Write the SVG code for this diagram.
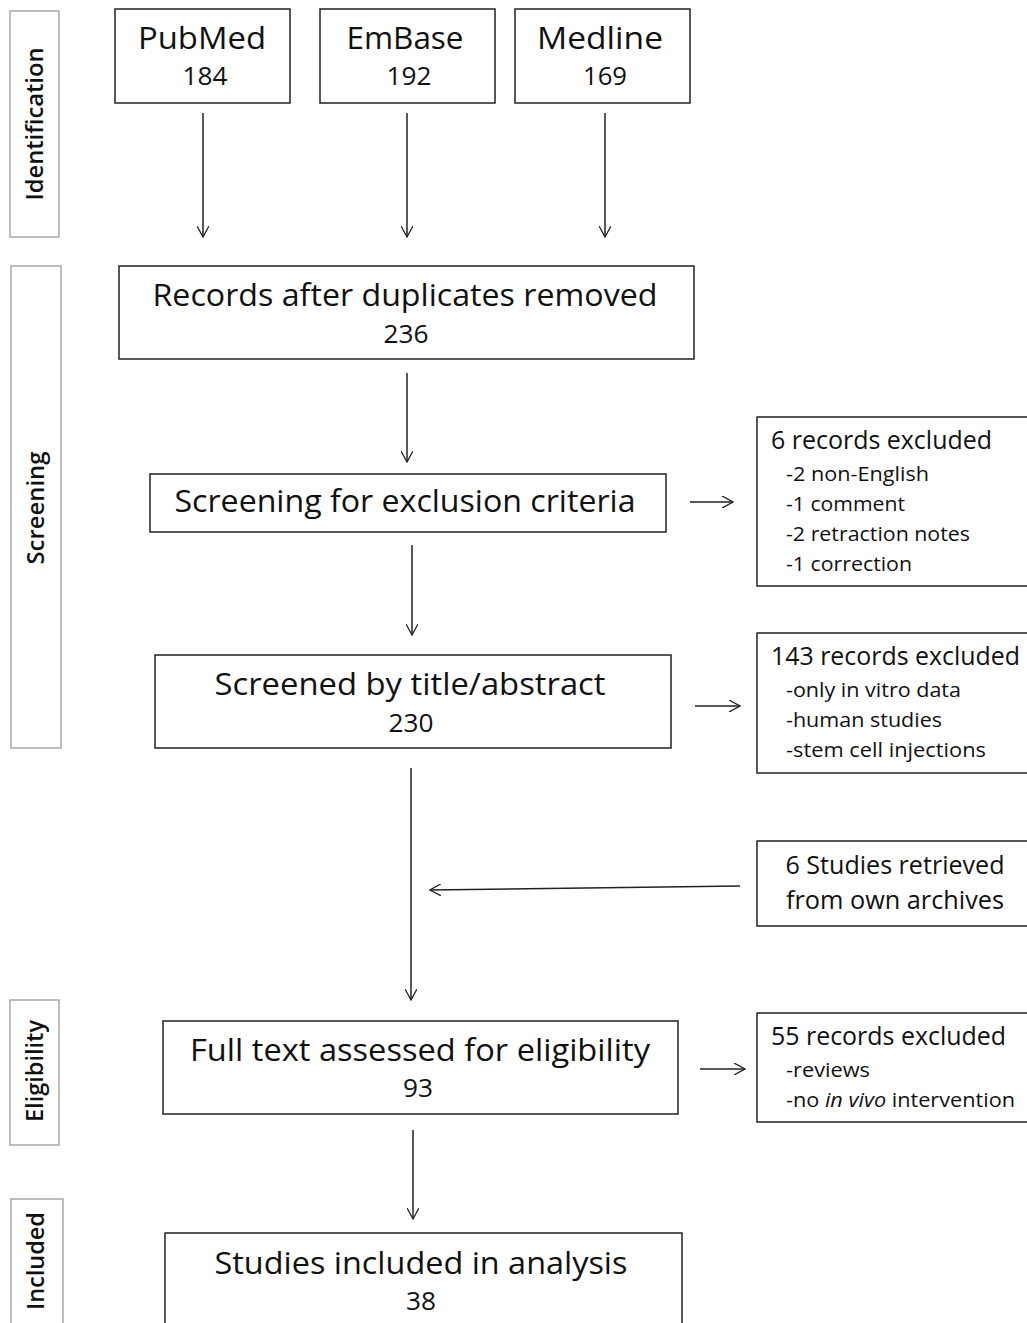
<svg xmlns="http://www.w3.org/2000/svg" width="1027" height="1323" viewBox="0 0 1027 1323">
<style>
.box{fill:#fff;stroke:#222;stroke-width:1.5}
.side{fill:#fff;stroke:#a8a8a8;stroke-width:1.5}
text{font-family:"Open Sans","Noto Sans","Liberation Sans",sans-serif;fill:#111}
.t{font-size:31px;text-anchor:middle}
.n{font-size:25px;text-anchor:middle}
.h{font-size:25px}
.s{font-size:20px}
.lab{font-size:24px;font-weight:600;text-anchor:middle}
.c{stroke:#222;stroke-width:1.5;fill:none;marker-end:url(#ah)}
</style>
<defs>
<marker id="ah" viewBox="0 0 12 12" refX="11" refY="6" markerWidth="12" markerHeight="12" markerUnits="userSpaceOnUse" orient="auto">
<polyline points="0,0 11,6 0,12" fill="none" stroke="#222" stroke-width="1.3"/>
</marker>
</defs>

<g id="side-identification"><rect class="side" x="10" y="11" width="49" height="226"/><text class="lab" transform="translate(43,124) rotate(-90)" textLength="153" lengthAdjust="spacingAndGlyphs">Identification</text></g>
<g id="side-screening"><rect class="side" x="11" y="266" width="50" height="482"/><text class="lab" transform="translate(44,508) rotate(-90)" textLength="113" lengthAdjust="spacingAndGlyphs">Screening</text></g>
<g id="side-eligibility"><rect class="side" x="10" y="1000" width="49" height="145"/><text class="lab" transform="translate(43,1071) rotate(-90)" textLength="102" lengthAdjust="spacingAndGlyphs">Eligibility</text></g>
<g id="side-included"><rect class="side" x="11" y="1199" width="52" height="140"/><text class="lab" transform="translate(44,1261) rotate(-90)" textLength="98" lengthAdjust="spacingAndGlyphs">Included</text></g>

<g id="pubmed"><rect class="box" x="115" y="9" width="175" height="94"/><text class="t" x="202" y="49" textLength="128" lengthAdjust="spacingAndGlyphs">PubMed</text><text class="n" x="205" y="85" textLength="45" lengthAdjust="spacingAndGlyphs">184</text></g>
<g id="embase"><rect class="box" x="320" y="9" width="175" height="94"/><text class="t" x="405" y="49" textLength="117" lengthAdjust="spacingAndGlyphs">EmBase</text><text class="n" x="409" y="85" textLength="45" lengthAdjust="spacingAndGlyphs">192</text></g>
<g id="medline"><rect class="box" x="515" y="9" width="175" height="94"/><text class="t" x="600" y="49" textLength="126" lengthAdjust="spacingAndGlyphs">Medline</text><text class="n" x="605" y="85" textLength="44" lengthAdjust="spacingAndGlyphs">169</text></g>

<g id="records"><rect class="box" x="119" y="266" width="575" height="93"/><text class="t" x="405" y="306" textLength="505" lengthAdjust="spacingAndGlyphs">Records after duplicates removed</text><text class="n" x="406" y="343" textLength="45" lengthAdjust="spacingAndGlyphs">236</text></g>
<g id="screening"><rect class="box" x="150" y="474" width="516" height="58"/><text class="t" x="405" y="512" textLength="461" lengthAdjust="spacingAndGlyphs">Screening for exclusion criteria</text></g>
<g id="screened"><rect class="box" x="155" y="655" width="516" height="93"/><text class="t" x="410" y="695" textLength="391" lengthAdjust="spacingAndGlyphs">Screened by title/abstract</text><text class="n" x="411" y="732" textLength="45" lengthAdjust="spacingAndGlyphs">230</text></g>
<g id="fulltext"><rect class="box" x="163" y="1021" width="515" height="93"/><text class="t" x="420" y="1061" textLength="460" lengthAdjust="spacingAndGlyphs">Full text assessed for eligibility</text><text class="n" x="418" y="1097" textLength="30" lengthAdjust="spacingAndGlyphs">93</text></g>
<g id="included"><rect class="box" x="165" y="1233" width="517" height="100"/><text class="t" x="421" y="1274" textLength="413" lengthAdjust="spacingAndGlyphs">Studies included in analysis</text><text class="n" x="421" y="1310" textLength="30" lengthAdjust="spacingAndGlyphs">38</text></g>

<g id="excl1"><rect class="box" x="757" y="417" width="280" height="169"/>
<text class="h" x="771" y="449" textLength="221" lengthAdjust="spacingAndGlyphs">6 records excluded</text>
<text class="s" x="786" y="481" textLength="143" lengthAdjust="spacingAndGlyphs">-2 non-English</text>
<text class="s" x="786" y="511" textLength="119" lengthAdjust="spacingAndGlyphs">-1 comment</text>
<text class="s" x="786" y="541" textLength="184" lengthAdjust="spacingAndGlyphs">-2 retraction notes</text>
<text class="s" x="786" y="571" textLength="126" lengthAdjust="spacingAndGlyphs">-1 correction</text></g>
<g id="excl2"><rect class="box" x="757" y="633" width="280" height="140"/>
<text class="h" x="771" y="665" textLength="249" lengthAdjust="spacingAndGlyphs">143 records excluded</text>
<text class="s" x="786" y="697" textLength="175" lengthAdjust="spacingAndGlyphs">-only in vitro data</text>
<text class="s" x="786" y="727" textLength="156" lengthAdjust="spacingAndGlyphs">-human studies</text>
<text class="s" x="786" y="757" textLength="200" lengthAdjust="spacingAndGlyphs">-stem cell injections</text></g>
<g id="archives"><rect class="box" x="757" y="841" width="280" height="85"/>
<text class="h" x="895" y="874" text-anchor="middle" textLength="219" lengthAdjust="spacingAndGlyphs">6 Studies retrieved</text>
<text class="h" x="895" y="909" text-anchor="middle" textLength="218" lengthAdjust="spacingAndGlyphs">from own archives</text></g>
<g id="excl3"><rect class="box" x="757" y="1013" width="280" height="109"/>
<text class="h" x="771" y="1045" textLength="235" lengthAdjust="spacingAndGlyphs">55 records excluded</text>
<text class="s" x="786" y="1077" textLength="84" lengthAdjust="spacingAndGlyphs">-reviews</text>
<text class="s" x="786" y="1107" textLength="229" lengthAdjust="spacingAndGlyphs">-no <tspan font-style="italic">in vivo</tspan> intervention</text></g>

<g id="connectors">
<line class="c" x1="203" y1="113" x2="203" y2="237"/>
<line class="c" x1="407" y1="113" x2="407" y2="237"/>
<line class="c" x1="605" y1="113" x2="605" y2="237"/>
<line class="c" x1="407" y1="373" x2="407" y2="462"/>
<line class="c" x1="690" y1="502" x2="733" y2="502"/>
<line class="c" x1="412" y1="545" x2="412" y2="635"/>
<line class="c" x1="695" y1="706" x2="740" y2="706"/>
<line class="c" x1="411" y1="768" x2="411" y2="1000"/>
<line class="c" x1="740" y1="886" x2="430" y2="890"/>
<line class="c" x1="700" y1="1069" x2="745" y2="1069"/>
<line class="c" x1="413" y1="1130" x2="413" y2="1219"/>
</g>
</svg>
